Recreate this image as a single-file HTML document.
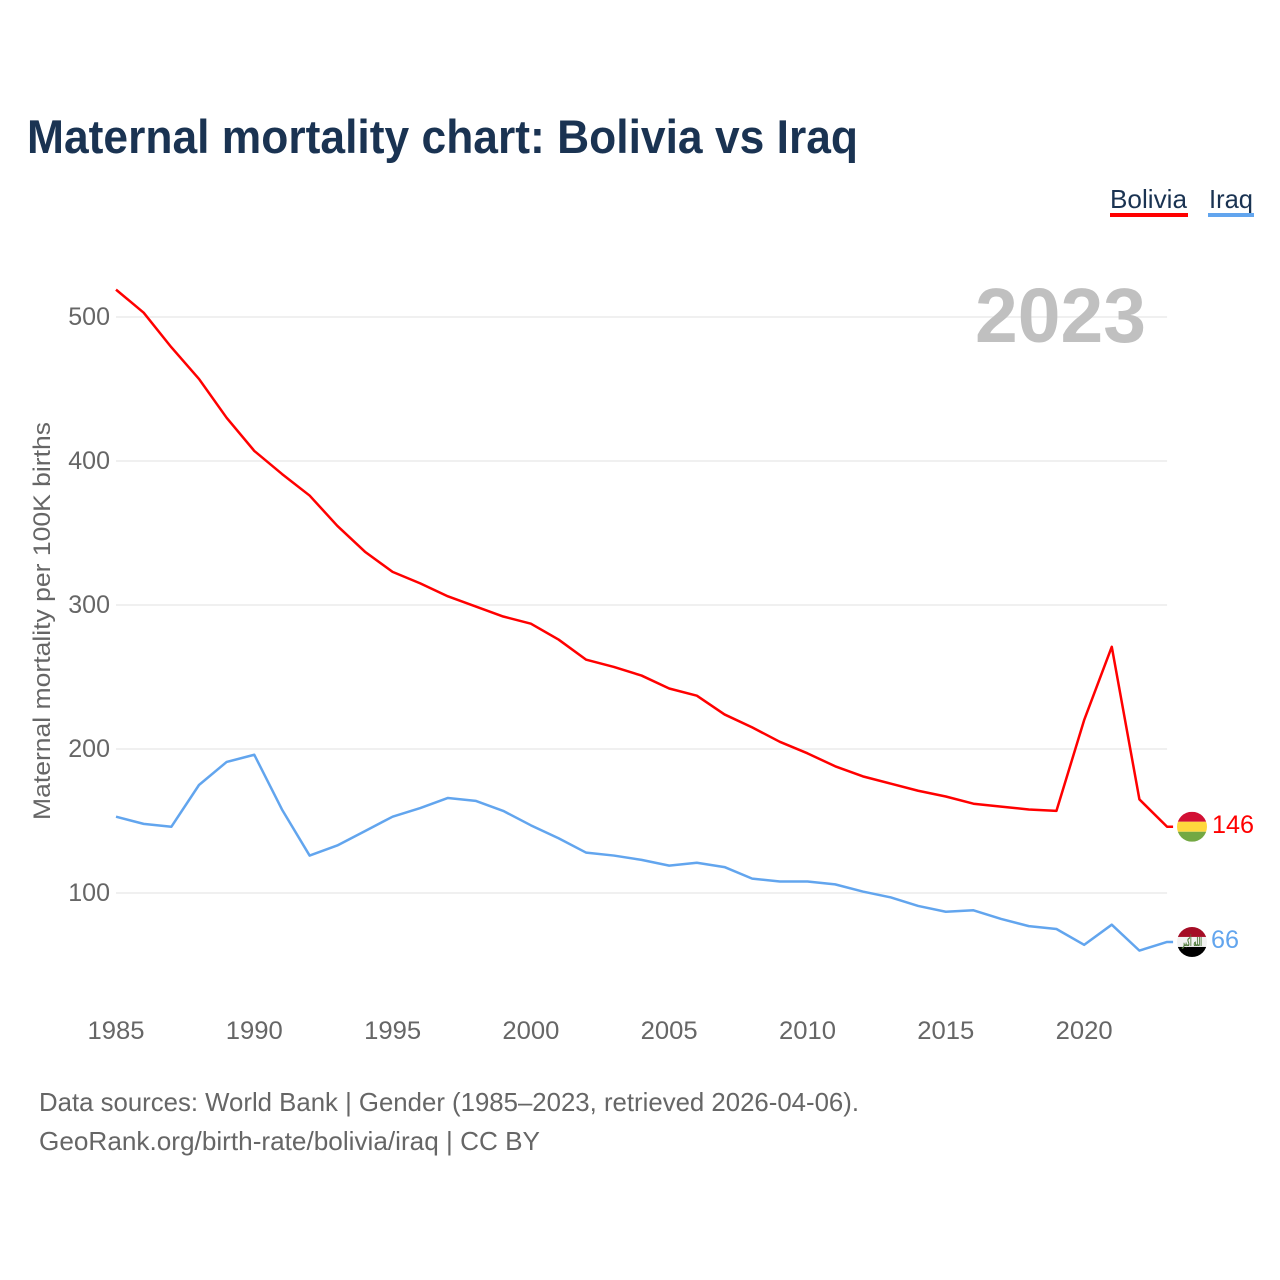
<!DOCTYPE html>
<html lang="en">
<head>
<meta charset="utf-8">
<title>Maternal mortality chart: Bolivia vs Iraq</title>
<style>
html,body{margin:0;padding:0;background:#fff;width:1280px;height:1280px;overflow:hidden}
svg{display:block}
text{font-family:"Liberation Sans",sans-serif}
</style>
</head>
<body>
<svg id="chart" xmlns="http://www.w3.org/2000/svg" width="1280" height="1280" viewBox="0 0 1280 1280">
  <defs>
    <clipPath id="clip-bolivia"><circle cx="0" cy="0" r="15"/></clipPath>
    <clipPath id="clip-iraq"><circle cx="0" cy="0" r="15"/></clipPath>
  </defs>
  <rect width="1280" height="1280" fill="#fff"/>
  <text x="27" y="153" font-size="47" font-weight="700" fill="#1a3352" textLength="831" lengthAdjust="spacingAndGlyphs">Maternal mortality chart: Bolivia vs Iraq</text>

  <g>
    <g>
      <text x="1110" y="208" font-size="26" fill="#1a3352" textLength="77" lengthAdjust="spacingAndGlyphs">Bolivia</text>
      <rect x="1110" y="213" width="78" height="4" fill="#ff0000"/>
    </g>
    <g>
      <text x="1209" y="208" font-size="26" fill="#1a3352" textLength="44" lengthAdjust="spacingAndGlyphs">Iraq</text>
      <rect x="1208" y="213" width="46" height="4" fill="#62a5ee"/>
    </g>
  </g>

  <g id="grid"></g>
  <text x="975" y="342" font-size="77" font-weight="700" fill="#c0c0c0" textLength="171" lengthAdjust="spacingAndGlyphs">2023</text>
  <g id="y-ticks"></g>
  <g id="x-ticks"></g>
  <text transform="translate(50,820) rotate(-90)" font-size="24" fill="#666666" textLength="398" lengthAdjust="spacingAndGlyphs">Maternal mortality per 100K births</text>

  <g id="series"></g>

  <g id="flag-bolivia" clip-path="url(#clip-bolivia)">
    <rect x="-15" y="-15" width="30" height="10" fill="#d21034"/>
    <rect x="-15" y="-5" width="30" height="10" fill="#ffd83d"/>
    <rect x="-15" y="5" width="30" height="10" fill="#73a843"/>
  </g>
  <g id="flag-iraq" clip-path="url(#clip-iraq)">
    <rect x="-15" y="-15" width="30" height="10" fill="#a50d26"/>
    <rect x="-15" y="-5" width="30" height="10" fill="#f2f2f2"/>
    <rect x="-15" y="5" width="30" height="10" fill="#000000"/>
    <text x="0" y="4" font-size="12" font-weight="700" fill="#4f7a3a" text-anchor="middle" textLength="20" lengthAdjust="spacingAndGlyphs" style="font-family:'DejaVu Sans',sans-serif">الله أكبر</text>
  </g>
  <text id="value-bolivia" x="1212" y="832" font-size="25" fill="#ff0000" textLength="42" lengthAdjust="spacingAndGlyphs"></text>
  <text id="value-iraq" x="1211" y="947" font-size="25" fill="#62a5ee" textLength="28" lengthAdjust="spacingAndGlyphs"></text>

  <text x="39" y="1111" font-size="26" fill="#666666" textLength="820" lengthAdjust="spacingAndGlyphs">Data sources: World Bank | Gender (1985–2023, retrieved 2026-04-06).</text>
  <text x="39" y="1150" font-size="26" fill="#666666" textLength="501" lengthAdjust="spacingAndGlyphs">GeoRank.org/birth-rate/bolivia/iraq | CC BY</text>
</svg>
<script>
const startYear = 1985;
const xTickLabels = [1985, 1990, 1995, 2000, 2005, 2010, 2015, 2020];
const yTickLabels = [100, 200, 300, 400, 500];
const boliviaValues = [519, 503, 479, 457, 430, 407, 391, 376, 355, 337, 323, 315, 306, 299, 292, 287, 276, 262, 257, 251, 242, 237, 224, 215, 205, 197, 188, 181, 176, 171, 167, 162, 160, 158, 157, 220, 271, 165, 146];
const iraqValues = [153, 148, 146, 175, 191, 196, 158, 126, 133, 143, 153, 159, 166, 164, 157, 147, 138, 128, 126, 123, 119, 121, 118, 110, 108, 108, 106, 101, 97, 91, 87, 88, 82, 77, 75, 64, 78, 60, 66];

const SVGNS = 'http://www.w3.org/2000/svg';
function xPos(year) { return 116 + (year - 1985) * 27.66; }
function yPos(value) { return 1037 - value * 1.44; }
function make(tag, parent) {
  const el = document.createElementNS(SVGNS, tag);
  parent.appendChild(el);
  return el;
}

const grid = document.getElementById('grid');
const yTicks = document.getElementById('y-ticks');
yTickLabels.forEach(function (v) {
  const line = make('line', grid);
  
  
  line.setAttribute('x1', xPos(1985));
  line.setAttribute('x2', xPos(2023));
  line.setAttribute('y1', yPos(v));
  line.setAttribute('y2', yPos(v));
  line.setAttribute('stroke', '#ececec');
  line.setAttribute('stroke-width', '1.5');
  const t = make('text', yTicks);
  
  
  t.setAttribute('x', 110);
  t.setAttribute('y', yPos(v) + 8);
  t.setAttribute('text-anchor', 'end');
  t.setAttribute('font-size', '25');
  t.setAttribute('fill', '#666666');
  t.textContent = v;
});

const xTicks = document.getElementById('x-ticks');
xTickLabels.forEach(function (yr) {
  const t = make('text', xTicks);
  
  
  t.setAttribute('x', xPos(yr));
  t.setAttribute('y', 1039);
  t.setAttribute('text-anchor', 'middle');
  t.setAttribute('font-size', '25');
  t.setAttribute('fill', '#666666');
  t.setAttribute('textLength', '57');
  t.setAttribute('lengthAdjust', 'spacingAndGlyphs');
  t.textContent = yr;
});

function drawSeries(values, color, name) {
  const pts = values.map(function (v, i) {
    return xPos(startYear + i).toFixed(2) + ',' + yPos(v).toFixed(2);
  });
  const last = values[values.length - 1];
  pts.push((xPos(startYear + values.length - 1) + 6).toFixed(2) + ',' + yPos(last).toFixed(2));
  const line = make('polyline', document.getElementById('series'));
  
  
  line.setAttribute('points', pts.join(' '));
  line.setAttribute('fill', 'none');
  line.setAttribute('stroke', color);
  line.setAttribute('stroke-width', '2.5');
  line.setAttribute('stroke-linejoin', 'round');
}
drawSeries(boliviaValues, '#ff0000', 'line-bolivia');
drawSeries(iraqValues, '#62a5ee', 'line-iraq');

const bLast = boliviaValues[boliviaValues.length - 1];
const iLast = iraqValues[iraqValues.length - 1];
document.getElementById('flag-bolivia').setAttribute('transform', 'translate(1192,' + yPos(bLast) + ')');
document.getElementById('flag-iraq').setAttribute('transform', 'translate(1192,' + yPos(iLast) + ')');
const vb = document.getElementById('value-bolivia');
vb.textContent = bLast;
vb.setAttribute('y', yPos(bLast) + 6);
const vi = document.getElementById('value-iraq');
vi.textContent = iLast;
vi.setAttribute('y', yPos(iLast) + 6);
</script>
</body>
</html>
